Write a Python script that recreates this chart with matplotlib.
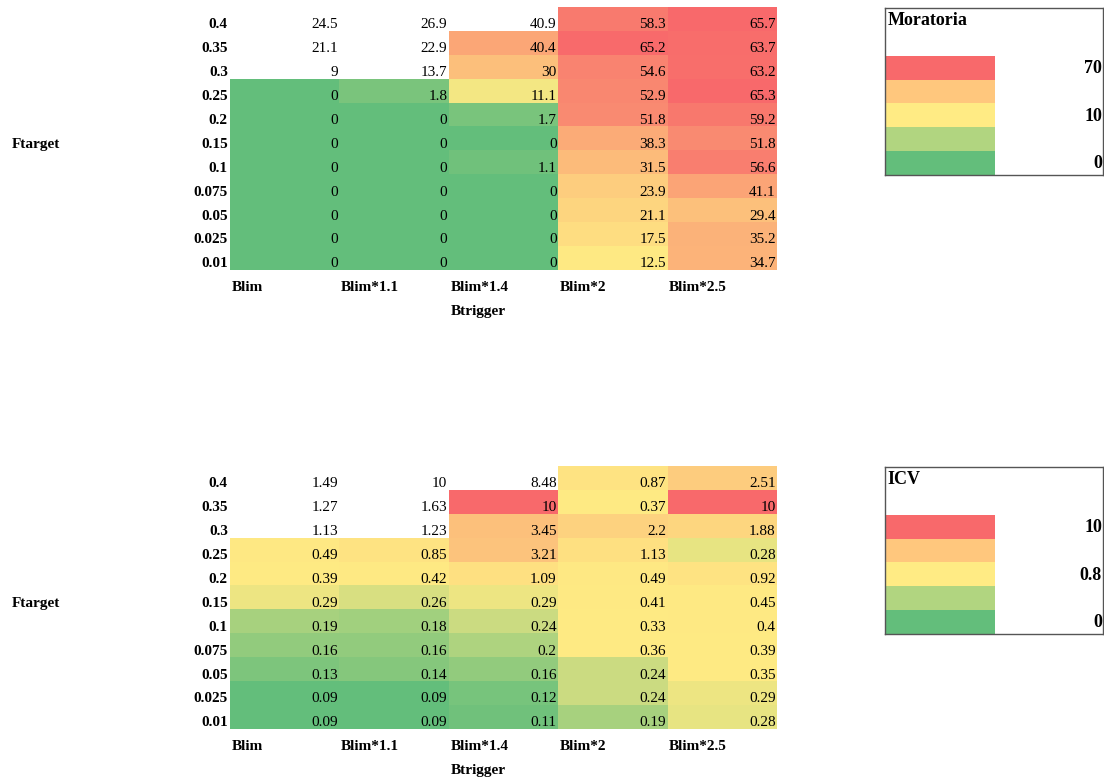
import numpy as np
import matplotlib
matplotlib.use('Agg')
import matplotlib.pyplot as plt
from matplotlib.colors import LinearSegmentedColormap, TwoSlopeNorm
from matplotlib.transforms import blended_transform_factory

plt.rcParams['font.family'] = ['Liberation Serif', 'DejaVu Serif']

ftarget = ['0.4', '0.35', '0.3', '0.25', '0.2', '0.15', '0.1', '0.075', '0.05', '0.025', '0.01']
btrigger = ['Blim', 'Blim*1.1', 'Blim*1.4', 'Blim*2', 'Blim*2.5']

# rows = Ftarget, cols = Btrigger
moratoria = [[24.5, 26.9, 40.9, 58.3, 65.7],
             [21.1, 22.9, 40.4, 65.2, 63.7],
             [9, 13.7, 30, 54.6, 63.2],
             [0, 1.8, 11.1, 52.9, 65.3],
             [0, 0, 1.7, 51.8, 59.2],
             [0, 0, 0, 38.3, 51.8],
             [0, 0, 1.1, 31.5, 56.6],
             [0, 0, 0, 23.9, 41.1],
             [0, 0, 0, 21.1, 29.4],
             [0, 0, 0, 17.5, 35.2],
             [0, 0, 0, 12.5, 34.7]]

icv = [[1.49, 10, 8.48, 0.87, 2.51],
       [1.27, 1.63, 10, 0.37, 10],
       [1.13, 1.23, 3.45, 2.2, 1.88],
       [0.49, 0.85, 3.21, 1.13, 0.28],
       [0.39, 0.42, 1.09, 0.49, 0.92],
       [0.29, 0.26, 0.29, 0.41, 0.45],
       [0.19, 0.18, 0.24, 0.33, 0.4],
       [0.16, 0.16, 0.2, 0.36, 0.39],
       [0.13, 0.14, 0.16, 0.24, 0.35],
       [0.09, 0.09, 0.12, 0.24, 0.29],
       [0.09, 0.09, 0.11, 0.19, 0.28]]

# first row (index) that carries colour in each column; cells above are left white
first_coloured = [3, 3, 1, 0, 0]

legend_colors = ['#F8696B', '#FFC77D', '#FFEB84', '#B1D580', '#63BE7B']
mor_legend = ['70', '', '10', '', '0']
icv_legend = ['10', '', '0.8', '', '0']

cmap = LinearSegmentedColormap.from_list('rag', ['#63BE7B', '#FFEB84', '#F8696B'])

W, H = 1104, 779
fig = plt.figure(figsize=(W / 100, H / 100), dpi=100)


def px_axes(x0, y0, x1, y1):
    return fig.add_axes([x0 / W, 1 - y1 / H, (x1 - x0) / W, (y1 - y0) / H])


def table(top, vals, norm):
    ax = px_axes(230, top, 777, top + 263)
    v = np.array(vals, dtype=float)
    rgba = cmap(norm(v))
    for j, r0 in enumerate(first_coloured):
        rgba[:r0, j] = (1, 1, 1, 1)
    ax.imshow(rgba, aspect='auto', interpolation='nearest')
    ax.set_xlim(-0.5, 4.5)
    ax.set_ylim(10.5, -0.5)
    ax.axis('off')
    for i in range(len(ftarget)):
        for j in range(len(btrigger)):
            ax.text(j + 0.487, i + 0.39, '%g' % v[i, j], ha='right', va='baseline', fontsize=11)
        ax.text(-0.52, i + 0.39, ftarget[i], ha='right', va='baseline', fontsize=11, fontweight='bold')
    for j, lab in enumerate(btrigger):
        ax.text(j - 0.485, 11.39, lab, ha='left', va='baseline', fontsize=11, fontweight='bold')
    ax.text(2 - 0.485, 12.39, 'Btrigger', ha='left', va='baseline', fontsize=11, fontweight='bold')
    tr = blended_transform_factory(fig.transFigure, ax.transData)
    ax.text(12 / W, 5.39, 'Ftarget', transform=tr, ha='left', va='baseline', fontsize=11, fontweight='bold')


def legend_box(top, title, labels):
    ax = px_axes(885, top, 1103, top + 167)
    ax.barh(np.arange(2, 7) + 0.5, 1.01, left=0, height=1, color=legend_colors)
    ax.set_xlim(0, 2)
    ax.set_ylim(7, 0)
    ax.set_xticks([])
    ax.set_yticks([])
    for s in ax.spines.values():
        s.set_color('#555555')
        s.set_linewidth(1)
    ax.text(0.02, 0.72, title, ha='left', va='baseline', fontsize=13, fontweight='bold')
    for k, lab in enumerate(labels):
        ax.text(1.99, k + 2.72, lab, ha='right', va='baseline', fontsize=13, fontweight='bold')


mor_norm = TwoSlopeNorm(vmin=0, vcenter=12, vmax=65.7)
icv_norm = TwoSlopeNorm(vmin=0.09, vcenter=0.315, vmax=10)

table(7, moratoria, mor_norm)
table(466, icv, icv_norm)
legend_box(8, 'Moratoria', mor_legend)
legend_box(467, 'ICV', icv_legend)

fig.savefig('out.png', dpi=100, facecolor='white')
